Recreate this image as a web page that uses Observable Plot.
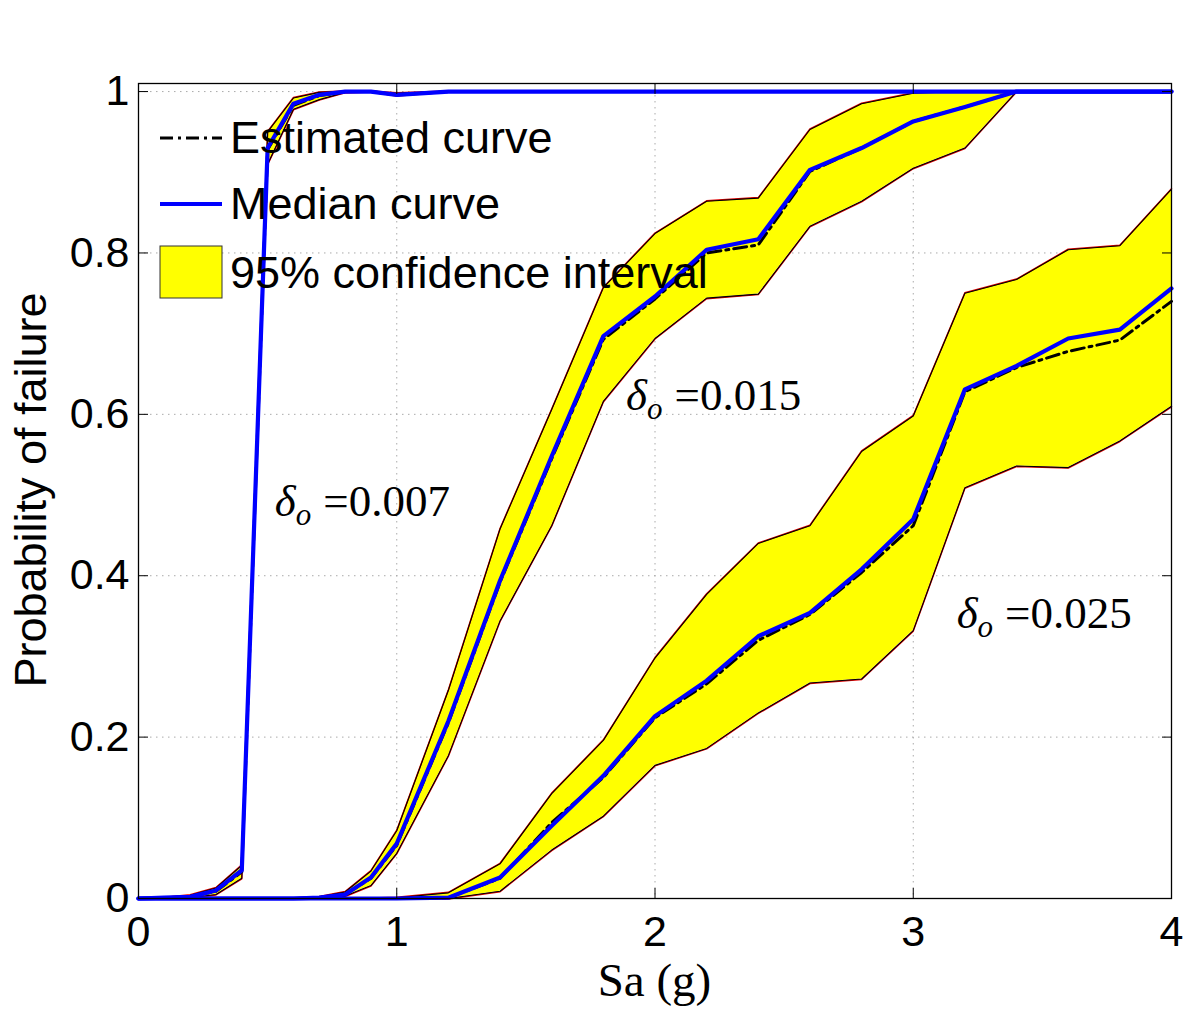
<!DOCTYPE html>
<html><head><meta charset="utf-8">
<script src="https://cdn.jsdelivr.net/npm/d3@7"></script>
<script src="https://cdn.jsdelivr.net/npm/@observablehq/plot@0.6"></script>
<style>body{margin:0;background:#fff}#chart{width:1192px;height:1009px}</style>
</head><body><div id="chart"></div>
<script>
// Sa (g) grid
const sa = [0, 0.1, 0.2, 0.3, 0.4, 0.5, 0.6, 0.7, 0.8, 0.9, 1.0, 1.2, 1.4, 1.6, 1.8, 2.0, 2.2, 2.4, 2.6, 2.8, 3.0, 3.2, 3.4, 3.6, 3.8, 4.0];

// delta_o = 0.007
const med007 = [0, 0.001, 0.002, 0.010, 0.035, 0.930, 0.985, 0.996, 1, 1, 0.996, 1, 1, 1, 1, 1, 1, 1, 1, 1, 1, 1, 1, 1, 1, 1];
const est007 = [0, 0.001, 0.002, 0.009, 0.033, 0.928, 0.983, 0.995, 1, 1, 0.996, 1, 1, 1, 1, 1, 1, 1, 1, 1, 1, 1, 1, 1, 1, 1];
const lo007  = [0, 0.000, 0.001, 0.005, 0.025, 0.910, 0.978, 0.990, 0.999, 1, 0.995, 1, 1, 1, 1, 1, 1, 1, 1, 1, 1, 1, 1, 1, 1, 1];
const hi007  = [0, 0.001, 0.004, 0.013, 0.041, 0.950, 0.992, 0.999, 1, 1, 0.998, 1, 1, 1, 1, 1, 1, 1, 1, 1, 1, 1, 1, 1, 1, 1];

// delta_o = 0.015
const med015 = [0, 0, 0, 0, 0, 0, 0, 0.001, 0.005, 0.026, 0.068, 0.220, 0.394, 0.548, 0.697, 0.746, 0.804, 0.817, 0.903, 0.930, 0.963, 0.981, 1, 1, 1, 1];
const est015 = [0, 0, 0, 0, 0, 0, 0, 0.001, 0.005, 0.025, 0.066, 0.218, 0.392, 0.545, 0.693, 0.743, 0.800, 0.810, 0.901, 0.930, 0.963, 0.981, 1, 1, 1, 1];
const lo015  = [0, 0, 0, 0, 0, 0, 0, 0.000, 0.003, 0.016, 0.056, 0.177, 0.344, 0.462, 0.616, 0.694, 0.744, 0.749, 0.833, 0.864, 0.905, 0.930, 1, 1, 1, 1];
const hi015  = [0, 0, 0, 0, 0, 0, 0, 0.002, 0.008, 0.034, 0.084, 0.258, 0.458, 0.606, 0.757, 0.824, 0.864, 0.868, 0.953, 0.985, 0.998, 1, 1, 1, 1, 1];

// delta_o = 0.025
const med025 = [0, 0, 0, 0, 0, 0, 0, 0, 0, 0, 0, 0.001, 0.026, 0.090, 0.152, 0.226, 0.270, 0.325, 0.354, 0.408, 0.470, 0.631, 0.660, 0.694, 0.705, 0.756];
const est025 = [0, 0, 0, 0, 0, 0, 0, 0, 0, 0, 0, 0.001, 0.025, 0.094, 0.150, 0.224, 0.266, 0.320, 0.352, 0.404, 0.462, 0.628, 0.658, 0.678, 0.692, 0.740];
const lo025  = [0, 0, 0, 0, 0, 0, 0, 0, 0, 0, 0, 0.000, 0.009, 0.060, 0.102, 0.165, 0.186, 0.230, 0.267, 0.272, 0.332, 0.509, 0.536, 0.534, 0.567, 0.610];
const hi025  = [0, 0, 0, 0, 0, 0, 0, 0, 0, 0, 0.001, 0.007, 0.043, 0.130, 0.196, 0.298, 0.377, 0.440, 0.462, 0.554, 0.598, 0.750, 0.767, 0.804, 0.809, 0.879];

const curveNames = ["0.007", "0.015", "0.025"];
const xTicks = [0, 1, 2, 3, 4];
const yTicks = [0, 0.2, 0.4, 0.6, 0.8, 1];
const legendLabels = ["Estimated curve", "Median curve", "95% confidence interval"];
// annotation anchors (data units): label, Sa, probability
const annLabels = ["0.007", "0.015", "0.025"];
const annX = [0.53, 1.89, 3.17];
const annY = [0.473, 0.605, 0.335];

const series = [
  {name: curveNames[0], med: med007, est: est007, lo: lo007, hi: hi007},
  {name: curveNames[1], med: med015, est: est015, lo: lo015, hi: hi015},
  {name: curveNames[2], med: med025, est: est025, lo: lo025, hi: hi025}
];
const rows = series.flatMap(c => sa.map((x, i) => ({curve: c.name, x, med: c.med[i], est: c.est[i], lo: c.lo[i], hi: c.hi[i]})));
const ann = annLabels.map((t, i) => ({t, x: annX[i], y: annY[i]}));

const DASHDOT = "13,5,3,5";
const fmt = d => String(d);
const plot = Plot.plot({
  width: 1192, height: 1009,
  marginLeft: 138, marginRight: 21, marginTop: 83, marginBottom: 111,
  style: {fontFamily: "'Liberation Sans', Arial, sans-serif", background: "white", color: "black", overflow: "visible"},
  x: {domain: [0, 4]},
  y: {domain: [0, 1.01]},
  marks: [
    Plot.gridX(xTicks, {stroke: "#aaa", strokeOpacity: 1, strokeWidth: 1, strokeDasharray: "1.5,4.5"}),
    Plot.gridY(yTicks, {stroke: "#aaa", strokeOpacity: 1, strokeWidth: 1, strokeDasharray: "1.5,4.5"}),
    Plot.areaY(rows, {x: "x", y1: "lo", y2: "hi", z: "curve", fill: "#ffff00", fillOpacity: 1}),
    Plot.line(rows, {x: "x", y: "lo", z: "curve", stroke: "#e00000", strokeWidth: 1.5, dy: 0.5}),
    Plot.line(rows, {x: "x", y: "hi", z: "curve", stroke: "#e00000", strokeWidth: 1.5, dy: -0.5}),
    Plot.line(rows, {x: "x", y: "lo", z: "curve", stroke: "black", strokeWidth: 1.1}),
    Plot.line(rows, {x: "x", y: "hi", z: "curve", stroke: "black", strokeWidth: 1.1}),
    Plot.line(rows, {x: "x", y: "est", z: "curve", stroke: "black", strokeWidth: 3, strokeDasharray: DASHDOT}),
    Plot.line(rows, {x: "x", y: "med", z: "curve", stroke: "#0000ff", strokeWidth: 4.2}),
    Plot.frame({stroke: "black", strokeWidth: 1.3}),
    Plot.axisX(xTicks, {anchor: "bottom", tickSize: -10, tickPadding: 27, fontSize: 43, label: null, tickFormat: fmt}),
    Plot.axisX(xTicks, {anchor: "top", tickSize: -10, tickFormat: () => "", label: null}),
    Plot.axisY(yTicks, {anchor: "left", tickSize: -10, tickPadding: 19, fontSize: 43, label: null, tickFormat: fmt}),
    Plot.axisY(yTicks, {anchor: "right", tickSize: -10, tickFormat: () => "", label: null})
  ]
});
document.getElementById("chart").appendChild(plot);

const svg = d3.select(plot);
const xs = plot.scale("x"), ys = plot.scale("y");

// annotations
const annG = svg.append("g").attr("font-family", "'Liberation Serif', 'DejaVu Serif', serif").attr("font-size", 45).attr("fill", "black").attr("text-anchor", "start");
ann.forEach(a => {
  const t = annG.append("text").attr("x", xs.apply(a.x)).attr("y", ys.apply(a.y)).attr("text-anchor", "start");
  t.append("tspan").attr("font-style", "italic").text("δ");
  t.append("tspan").attr("font-style", "italic").attr("font-size", 31).attr("dy", 9).text("o");
  t.append("tspan").attr("dy", -9).attr("dx", 12).text("=" + a.t);
});

// axis titles
svg.append("text").attr("transform", "translate(46,490) rotate(-90)").attr("text-anchor", "middle")
  .attr("font-family", "'Liberation Sans', Arial, sans-serif").attr("font-size", 45).attr("fill", "black")
  .text("Probability of failure");
svg.append("text").attr("x", xs.apply(2)).attr("y", 996).attr("text-anchor", "middle")
  .attr("font-family", "'Liberation Serif', 'DejaVu Serif', serif").attr("font-size", 47).attr("fill", "black")
  .text("Sa (g)");

// legend
const lg = svg.append("g").attr("font-family", "'Liberation Sans', Arial, sans-serif").attr("font-size", 45).attr("fill", "black").attr("text-anchor", "start");
lg.append("line").attr("x1", 160).attr("x2", 222).attr("y1", 138).attr("y2", 138).attr("stroke", "black").attr("stroke-width", 3).attr("stroke-dasharray", DASHDOT);
lg.append("text").attr("x", 230).attr("y", 153).attr("text-anchor", "start").text(legendLabels[0]);
lg.append("line").attr("x1", 160).attr("x2", 222).attr("y1", 204).attr("y2", 204).attr("stroke", "#0000ff").attr("stroke-width", 4.2);
lg.append("text").attr("x", 230).attr("y", 219).attr("text-anchor", "start").text(legendLabels[1]);
lg.append("rect").attr("x", 160).attr("y", 246).attr("width", 62).attr("height", 52).attr("fill", "#ffff00").attr("stroke", "#333").attr("stroke-width", 1);
lg.append("text").attr("x", 230).attr("y", 288).attr("text-anchor", "start").text(legendLabels[2]);
</script>
</body></html>
